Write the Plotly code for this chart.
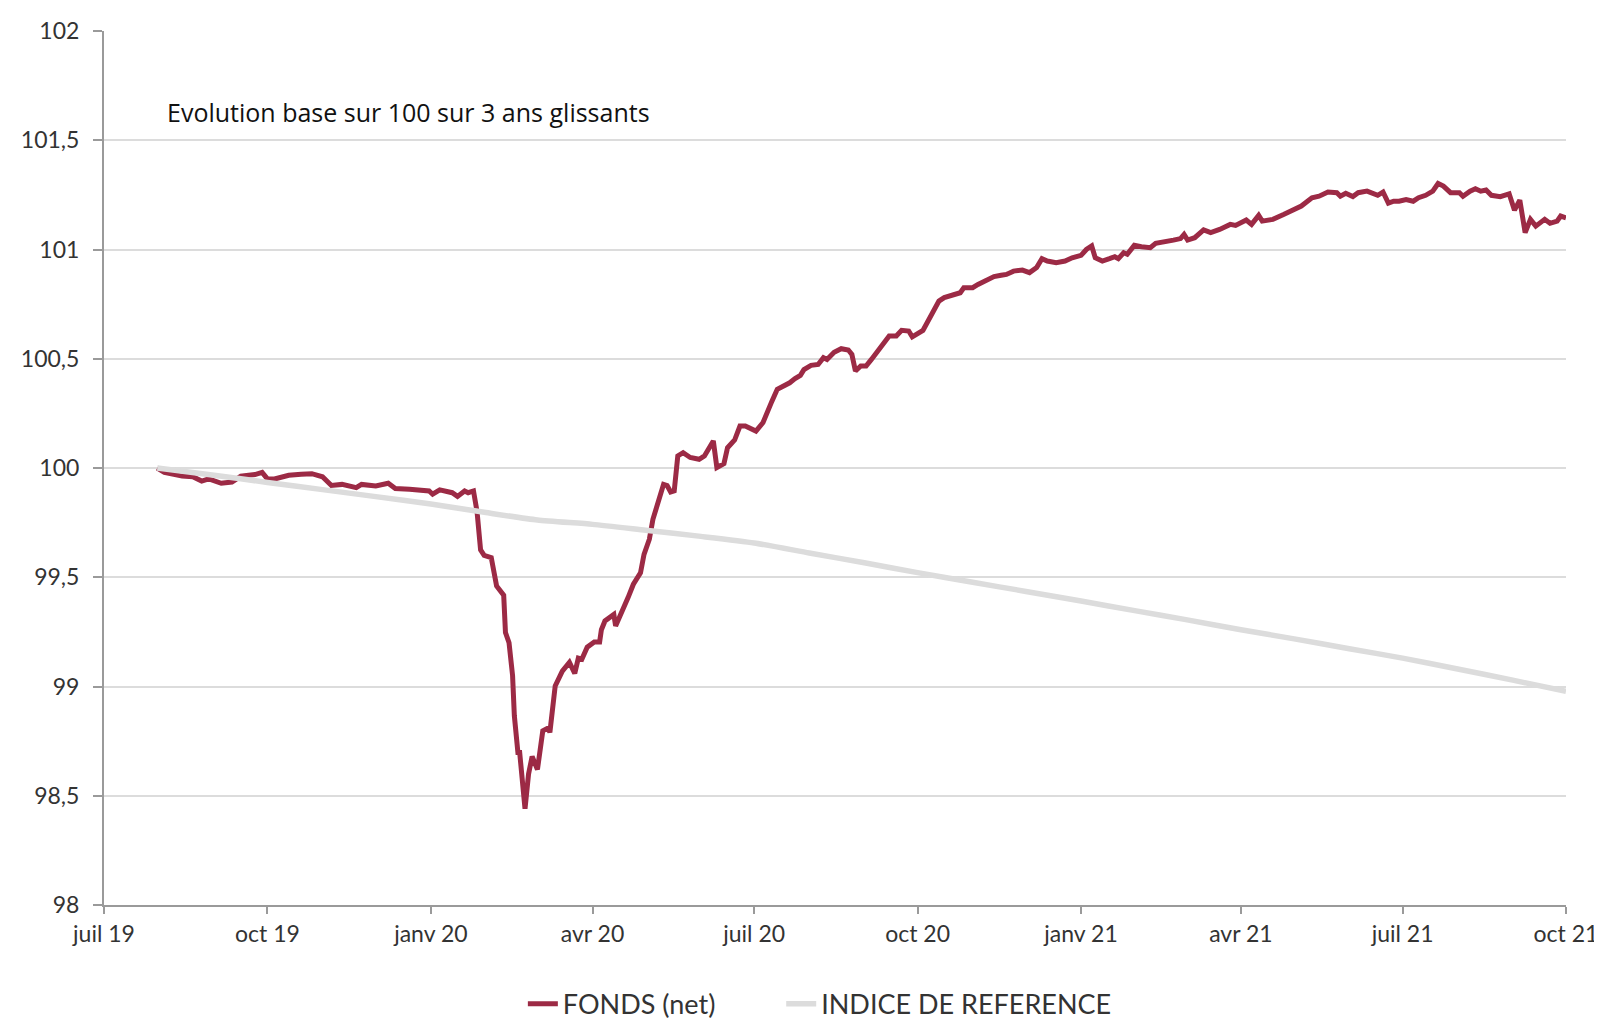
import plotly.graph_objects as go

# ---------------- data ----------------
fund_dates = [
    "2019-07-31", "2019-08-04", "2019-08-14", "2019-08-20", "2019-08-25", "2019-08-29",
    "2019-09-05", "2019-09-11", "2019-09-16", "2019-09-24", "2019-09-28", "2019-10-01",
    "2019-10-05", "2019-10-13", "2019-10-20", "2019-10-26", "2019-11-01", "2019-11-06",
    "2019-11-12", "2019-11-20", "2019-11-23", "2019-12-01", "2019-12-08", "2019-12-12",
    "2019-12-20", "2019-12-31", "2020-01-02", "2020-01-06", "2020-01-13", "2020-01-16",
    "2020-01-20", "2020-01-22", "2020-01-25", "2020-01-27", "2020-01-29", "2020-01-31",
    "2020-02-04", "2020-02-06", "2020-02-07", "2020-02-11", "2020-02-12", "2020-02-14",
    "2020-02-16", "2020-02-17", "2020-02-19", "2020-02-20", "2020-02-23", "2020-02-25",
    "2020-02-27", "2020-03-01", "2020-03-04", "2020-03-07", "2020-03-08", "2020-03-11",
    "2020-03-15", "2020-03-19", "2020-03-22", "2020-03-24", "2020-03-26", "2020-03-29",
    "2020-04-02", "2020-04-05", "2020-04-06", "2020-04-08", "2020-04-13", "2020-04-14",
    "2020-04-19", "2020-04-21", "2020-04-24", "2020-04-28", "2020-04-30", "2020-05-03",
    "2020-05-05", "2020-05-08", "2020-05-11", "2020-05-13", "2020-05-15", "2020-05-17",
    "2020-05-19", "2020-05-22", "2020-05-26", "2020-05-31", "2020-06-03", "2020-06-08",
    "2020-06-10", "2020-06-14", "2020-06-16", "2020-06-20", "2020-06-23", "2020-06-26",
    "2020-07-02", "2020-07-06", "2020-07-09", "2020-07-11", "2020-07-14", "2020-07-18",
    "2020-07-21", "2020-07-24", "2020-07-27", "2020-07-29", "2020-08-02", "2020-08-06",
    "2020-08-09", "2020-08-11", "2020-08-15", "2020-08-19", "2020-08-23", "2020-08-25",
    "2020-08-27", "2020-08-30", "2020-09-02", "2020-09-05", "2020-09-08", "2020-09-11",
    "2020-09-15", "2020-09-19", "2020-09-22", "2020-09-26", "2020-09-28", "2020-10-04",
    "2020-10-08", "2020-10-13", "2020-10-16", "2020-10-21", "2020-10-25", "2020-10-27",
    "2020-11-01", "2020-11-04", "2020-11-09", "2020-11-13", "2020-11-17", "2020-11-20",
    "2020-11-24", "2020-11-29", "2020-12-03", "2020-12-07", "2020-12-10", "2020-12-13",
    "2020-12-18", "2020-12-23", "2020-12-27", "2021-01-01", "2021-01-04", "2021-01-07",
    "2021-01-09", "2021-01-13", "2021-01-17", "2021-01-20", "2021-01-22", "2021-01-25",
    "2021-01-27", "2021-01-31", "2021-02-04", "2021-02-09", "2021-02-12", "2021-02-18",
    "2021-02-22", "2021-02-26", "2021-02-28", "2021-03-02", "2021-03-06", "2021-03-11",
    "2021-03-15", "2021-03-20", "2021-03-26", "2021-03-29", "2021-04-04", "2021-04-07",
    "2021-04-11", "2021-04-13", "2021-04-19", "2021-04-25", "2021-04-29", "2021-05-05",
    "2021-05-11", "2021-05-15", "2021-05-20", "2021-05-25", "2021-05-27", "2021-05-30",
    "2021-06-03", "2021-06-06", "2021-06-11", "2021-06-14", "2021-06-17", "2021-06-20",
    "2021-06-23", "2021-06-26", "2021-06-29", "2021-07-03", "2021-07-07", "2021-07-10",
    "2021-07-14", "2021-07-18", "2021-07-21", "2021-07-24", "2021-07-28", "2021-08-02",
    "2021-08-04", "2021-08-08", "2021-08-11", "2021-08-14", "2021-08-17", "2021-08-20",
    "2021-08-25", "2021-08-30", "2021-09-02", "2021-09-05", "2021-09-08", "2021-09-11",
    "2021-09-14", "2021-09-19", "2021-09-22", "2021-09-26", "2021-09-28", "2021-10-01",
]
fund_values = [
    100.00, 99.98, 99.963, 99.96, 99.94, 99.95,
    99.93, 99.936, 99.963, 99.97, 99.98, 99.95,
    99.95, 99.967, 99.971, 99.974, 99.96, 99.92,
    99.925, 99.91, 99.925, 99.918, 99.93, 99.906,
    99.903, 99.895, 99.88, 99.90, 99.887, 99.87,
    99.895, 99.887, 99.895, 99.80, 99.625, 99.60,
    99.59, 99.506, 99.46, 99.418, 99.247, 99.20,
    99.05, 98.866, 98.698, 98.698, 98.44, 98.60,
    98.68, 98.62, 98.797, 98.81, 98.79, 99.003,
    99.07, 99.11, 99.06, 99.13, 99.125, 99.18,
    99.204, 99.204, 99.26, 99.30, 99.33, 99.277,
    99.361, 99.407, 99.468, 99.52, 99.605, 99.674,
    99.765, 99.855, 99.925, 99.92, 99.89, 99.895,
    100.055, 100.07, 100.048, 100.04, 100.055, 100.124,
    100.002, 100.02, 100.093, 100.128, 100.192, 100.192,
    100.169, 100.208, 100.276, 100.306, 100.36, 100.375,
    100.39, 100.409, 100.424, 100.45, 100.47, 100.474,
    100.505, 100.497, 100.53, 100.546, 100.54, 100.52,
    100.444, 100.467, 100.467, 100.497, 100.528, 100.566,
    100.604, 100.604, 100.63, 100.627, 100.60, 100.63,
    100.688, 100.764, 100.78, 100.795, 100.802, 100.825,
    100.825, 100.84, 100.863, 100.876, 100.882, 100.886,
    100.901, 100.906, 100.894, 100.917, 100.958, 100.947,
    100.94, 100.947, 100.962, 100.973, 101.00, 101.016,
    100.962, 100.947, 100.958, 100.967, 100.958, 100.985,
    100.978, 101.019, 101.013, 101.008, 101.028, 101.034,
    101.043, 101.05, 101.069, 101.043, 101.054, 101.09,
    101.077, 101.092, 101.115, 101.11, 101.135, 101.115,
    101.156, 101.13, 101.138, 101.16, 101.176, 101.199,
    101.237, 101.244, 101.263, 101.26, 101.244, 101.257,
    101.242, 101.26, 101.267, 101.26, 101.248, 101.263,
    101.212, 101.221, 101.221, 101.229, 101.221, 101.237,
    101.248, 101.267, 101.302, 101.29, 101.26, 101.26,
    101.244, 101.267, 101.278, 101.267, 101.272, 101.248,
    101.242, 101.255, 101.18, 101.226, 101.077, 101.138,
    101.107, 101.138, 101.12, 101.13, 101.153, 101.145,
]

index_dates = [
    "2019-07-31", "2019-09-01", "2019-10-01", "2019-11-01", "2019-12-01", "2020-01-01",
    "2020-02-01", "2020-03-01", "2020-04-01", "2020-05-01", "2020-06-01", "2020-07-01",
    "2020-08-01", "2020-09-01", "2020-10-01", "2020-11-01", "2020-12-01", "2021-01-01",
    "2021-02-01", "2021-03-01", "2021-04-01", "2021-05-01", "2021-06-01", "2021-07-01",
    "2021-08-01", "2021-09-01", "2021-10-01",
]
index_values = [
    100.00, 99.967, 99.934, 99.901, 99.869, 99.835,
    99.796, 99.762, 99.742, 99.715, 99.687, 99.657,
    99.611, 99.566, 99.521, 99.477, 99.435, 99.391,
    99.346, 99.306, 99.26, 99.218, 99.173, 99.13,
    99.08, 99.029, 98.978,
]

x_tick_vals = ["2019-07-01", "2019-10-01", "2020-01-01", "2020-04-01", "2020-07-01",
               "2020-10-01", "2021-01-01", "2021-04-01", "2021-07-01", "2021-10-01"]
x_tick_text = ["juil 19", "oct 19", "janv 20", "avr 20", "juil 20",
               "oct 20", "janv 21", "avr 21", "juil 21", "oct 21"]
y_tick_vals = [98, 98.5, 99, 99.5, 100, 100.5, 101, 101.5, 102]
y_tick_text = ["98", "98,5", "99", "99,5", "100", "100,5", "101", "101,5", "102"]

series_names = ["FONDS (net)", "INDICE DE REFERENCE"]
title_text = "Evolution base sur 100 sur 3 ans glissants"

# ---------------- figure ----------------
FONT = "Lato"
fig = go.Figure()
fig.add_trace(go.Scatter(
    x=fund_dates, y=fund_values, mode="lines", name=series_names[0],
    line=dict(color="#9C2A45", width=5), legend="legend",
))
fig.add_trace(go.Scatter(
    x=index_dates, y=index_values, mode="lines", name=series_names[1],
    line=dict(color="#DCDCDC", width=5.5, shape="spline", smoothing=0.6),
    legend="legend2",
))

fig.add_annotation(
    text=title_text, xref="paper", yref="paper", x=0.0417, y=0.9076,
    xanchor="left", yanchor="middle", showarrow=False,
    font=dict(family="Open Sans", size=25, color="#111111"),
)

legend_common = dict(
    orientation="h", xanchor="left", y=-0.1135, yanchor="middle",
    font=dict(family=FONT, size=27, color="#333333"),
    bgcolor="rgba(0,0,0,0)",
)

fig.update_layout(
    width=1602, height=1021,
    paper_bgcolor="white", plot_bgcolor="white",
    margin=dict(l=96, r=44, t=23, b=124, autoexpand=False),
    font=dict(family=FONT, size=23, color="#333333"),
    showlegend=True,
    legend=dict(x=0.2865, **legend_common),
    legend2=dict(x=0.4632, **legend_common),
)

fig.update_xaxes(
    range=["2019-07-01", "2021-10-01"],
    tickvals=x_tick_vals, ticktext=x_tick_text,
    showgrid=False, zeroline=False,
    showline=True, linecolor="#9a9a9a", linewidth=2,
    ticks="outside", ticklen=7, tickwidth=2, tickcolor="#9a9a9a",
    tickfont=dict(family=FONT, size=23, color="#333333"),
)
fig.update_yaxes(
    range=[98, 102],
    tickvals=y_tick_vals, ticktext=y_tick_text,
    showgrid=True, gridcolor="#dcdcdc", gridwidth=2,
    zeroline=False,
    showline=True, linecolor="#9a9a9a", linewidth=2,
    ticks="outside", ticklen=9, tickwidth=2, tickcolor="#9a9a9a",
    ticklabelstandoff=9,
    tickfont=dict(family=FONT, size=23, color="#333333"),
)

fig.write_html("out.html")
